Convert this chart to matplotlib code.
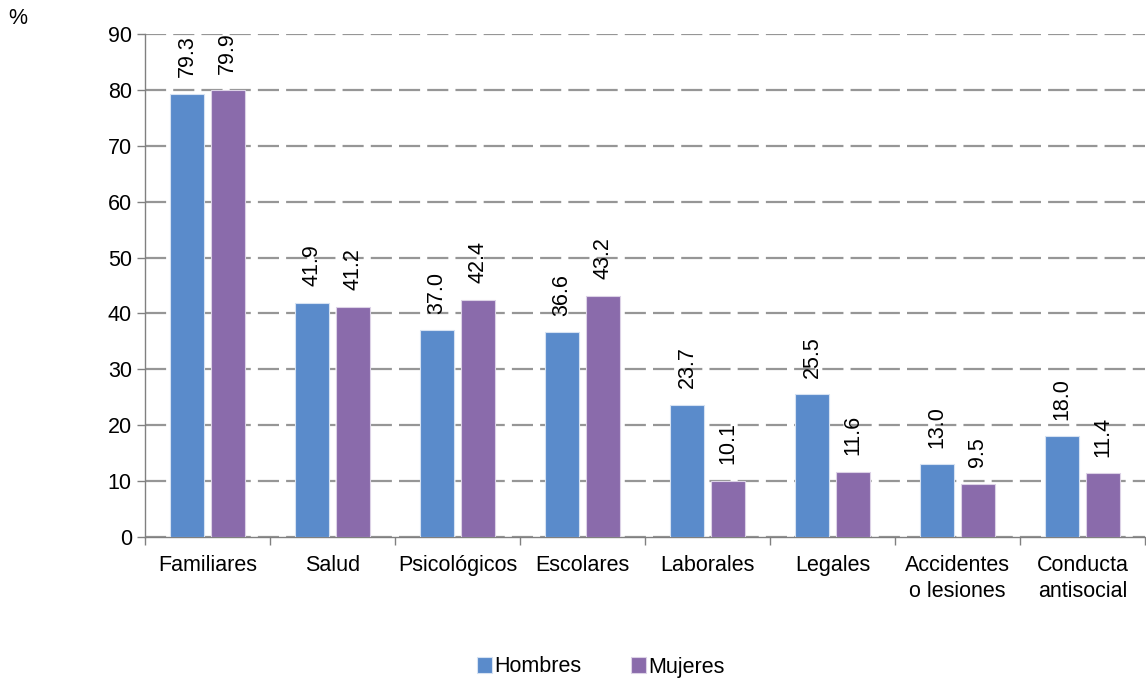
import matplotlib
matplotlib.use("Agg")
import matplotlib.pyplot as plt
import numpy as np

plt.rcParams['font.family'] = ['Liberation Sans', 'DejaVu Sans']

categories = ["Familiares", "Salud", "Psicológicos", "Escolares", "Laborales",
              "Legales", "Accidentes\no lesiones", "Conducta\nantisocial"]
hombres = [79.3, 41.9, 37.0, 36.6, 23.7, 25.5, 13.0, 18.0]
mujeres = [79.9, 41.2, 42.4, 43.2, 10.1, 11.6, 9.5, 11.4]
series_names = ["Hombres", "Mujeres"]
yticks = list(range(0, 91, 10))

c_h = "#5A8BCB"
c_m = "#8A6BAB"
FS = 15.5

fig = plt.figure(figsize=(11.46, 6.81), dpi=100)
ax = fig.add_axes([0.1265, 0.2115, 0.8725, 0.7385])

x = np.arange(len(categories))
w = 0.27
off = 0.163
b1 = ax.bar(x - off, hombres, w, color=c_h, edgecolor="#D6E2F2", linewidth=0.8,
            label=series_names[0], zorder=3)
b2 = ax.bar(x + off, mujeres, w, color=c_m, edgecolor="#DCD2E6", linewidth=0.8,
            label=series_names[1], zorder=3)

for bars, vals in ((b1, hombres), (b2, mujeres)):
    for rect, v in zip(bars, vals):
        ax.annotate(f"{v:.1f}", (rect.get_x() + rect.get_width() / 2, v),
                    xytext=(0, 12), textcoords="offset points",
                    rotation=90, ha="center", va="bottom", fontsize=FS,
                    color="black", zorder=4)

ax.set_xlim(-0.5, len(categories) - 0.5)
ax.set_ylim(0, 90)
ax.set_yticks(yticks)
ax.yaxis.grid(True, linestyle=(0, (9.5, 3.2)), color="#969696", linewidth=1.6, zorder=0)
ax.set_axisbelow(True)
ax.tick_params(axis="y", labelsize=FS, length=6, width=1, color="#808080", pad=3.5)

ax.set_xticks(x)
ax.set_xticklabels(categories, fontsize=FS, linespacing=1.3)
ax.tick_params(axis="x", length=0, pad=13)
ax.set_xticks(np.arange(-0.5, len(categories) + 0.5, 1), minor=True)
ax.tick_params(axis="x", which="minor", length=6, width=1, color="#808080")

for s in ("top", "right"):
    ax.spines[s].set_visible(False)
for s in ("left", "bottom"):
    ax.spines[s].set_color("#808080")
    ax.spines[s].set_linewidth(1)

fig.text(8 / 1146, 1 - 18 / 681, "%", fontsize=FS, ha="left", va="center")

fig.legend(handles=[b1, b2], labels=series_names, loc="center",
           bbox_to_anchor=(0.524, 1 - 667 / 681), ncol=2, frameon=False,
           fontsize=FS, handlelength=0.7, handleheight=0.7, handletextpad=0.1,
           columnspacing=2.3)

fig.savefig("out.png", dpi=100)
